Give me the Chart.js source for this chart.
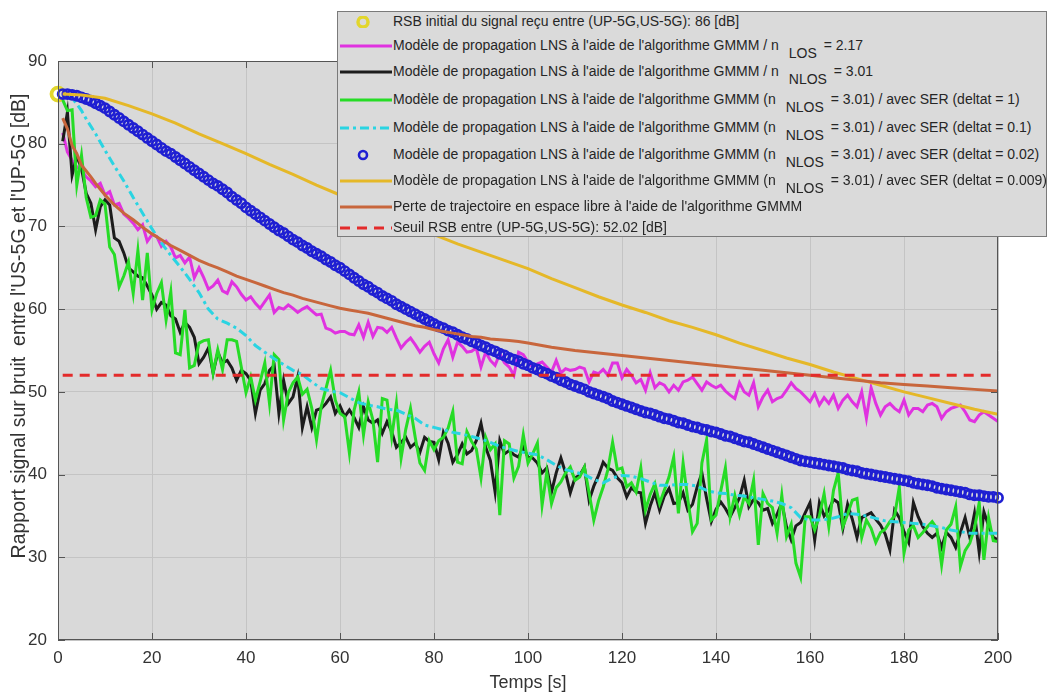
<!DOCTYPE html>
<html>
<head>
<meta charset="utf-8">
<script src="https://cdn.jsdelivr.net/npm/chart.js@4.4.1/dist/chart.umd.min.js"></script>
<style>
  html, body { margin: 0; padding: 0; background: #ffffff; }
  #wrap { position: relative; width: 1048px; height: 693px; }
  #legend {
    position: absolute; left: 337px; top: 11px; width: 710px; height: 226px;
    background: #dadada; border: 1px solid #7a7a7a; box-sizing: border-box;
    font-family: "Liberation Sans", Arial, sans-serif; font-size: 14px; color: #262626;
  }
  .row { position: absolute; left: 0; height: 16px; line-height: 16px; white-space: nowrap; }
  .row svg { position: absolute; left: 2px; top: 3px; }
  .row .txt { position: absolute; left: 55px; top: 0; }
  .sub { font-size: 14px; position: relative; top: 8px; margin-left: 6px; margin-right: 3px; }
</style>
</head>
<body>
<div id="wrap">
  <canvas id="chart" width="1048" height="693"></canvas>
  <div id="legend"></div>
</div>
<script>
// ---------------- DATA ----------------
const TIME = Array.from({length: 200}, (_, i) => i + 1);

const X_TICKS = [0, 20, 40, 60, 80, 100, 120, 140, 160, 180, 200];
const Y_TICKS = [20, 30, 40, 50, 60, 70, 80, 90];

const INITIAL_T = [0];
const INITIAL_V = [86];

const THRESHOLD_T = [1, 200];
const THRESHOLD_V = [52.02, 52.02];

const MAGENTA_V = [
81.3,79.0,78.0,77.2,76.8,76.0,75.5,74.8,75.2,73.8,
74.2,72.6,72.8,71.5,71.0,70.4,69.6,70.2,68.2,69.0,
68.8,67.6,68.2,67.5,66.2,66.5,65.6,66.3,63.8,65.0,
63.8,62.4,62.8,63.5,62.2,61.9,63.3,62.7,61.8,61.1,
61.5,60.7,60.1,60.9,61.7,59.6,60.2,60.0,60.5,60.1,
59.6,60.0,60.3,59.8,59.3,59.4,57.7,57.5,57.1,57.3,
57.3,57.0,56.9,58.1,56.6,58.4,56.7,57.8,57.7,57.2,
57.8,56.5,55.3,56.0,56.5,55.7,54.8,55.5,56.0,54.6,
53.5,55.2,56.3,54.2,56.0,55.5,54.8,54.9,55.3,53.0,
54.8,53.8,53.2,54.6,53.5,53.0,52.0,54.8,54.5,53.6,
53.0,53.4,53.6,53.0,52.4,53.8,52.3,52.8,52.6,52.7,
53.0,52.8,51.2,52.4,52.2,52.7,52.0,53.5,53.5,51.7,
52.7,52.0,51.1,51.5,50.2,52.3,50.5,51.1,50.8,50.0,
50.8,50.2,51.2,51.4,51.8,51.0,50.2,51.2,50.8,50.5,
50.8,50.1,49.6,49.2,51.1,50.0,49.6,51.1,48.2,49.4,
50.2,48.8,49.2,49.4,50.2,51.1,50.4,50.0,49.4,48.8,
49.8,48.4,49.3,48.6,49.6,48.0,49.0,49.6,48.8,48.2,
50.0,46.8,50.5,48.6,47.2,48.2,48.6,48.0,47.6,49.0,
47.2,48.0,48.0,47.6,48.4,48.6,48.2,46.8,47.6,48.0,
48.2,48.4,47.6,46.6,46.4,47.2,47.6,47.2,46.8,46.4
];

const BLACK_V = [
80.3,83.8,76.2,78.5,77.0,74.0,72.8,69.6,72.4,73.2,
72.6,68.6,68.2,66.8,65.0,64.5,64.0,63.8,62.8,61.7,
60.0,60.8,60.5,59.2,58.8,57.2,58.4,57.8,56.6,53.4,
54.2,55.3,52.3,54.8,53.5,53.8,52.9,51.4,52.6,52.2,
51.4,47.4,50.2,51.0,52.6,53.2,47.4,51.4,48.6,49.4,
51.8,45.7,48.2,45.7,47.8,48.0,48.6,49.4,47.4,48.3,
47.0,47.8,46.9,45.7,48.2,46.6,46.2,46.6,45.0,46.4,
45.2,43.3,43.9,44.5,43.3,43.8,42.7,44.5,44.0,43.9,
41.8,45.1,43.8,41.5,42.4,43.7,42.5,42.9,44.1,46.2,
43.3,41.7,37.9,44.1,42.5,42.9,42.4,42.1,43.3,42.1,
42.0,41.4,40.2,40.8,37.9,40.2,42.0,40.2,37.8,39.6,
39.9,40.9,36.9,38.6,39.9,41.5,40.8,40.5,39.6,39.0,
37.3,38.4,37.9,37.8,34.1,36.2,37.8,35.7,37.4,38.3,
36.5,36.6,37.8,35.7,36.4,38.5,40.2,37.1,34.3,35.8,
36.7,35.9,34.9,36.0,37.2,39.3,36.1,37.0,36.6,35.7,
35.9,34.1,35.2,36.6,33.7,32.1,33.8,34.2,35.4,36.6,
32.1,36.6,35.0,35.7,37.0,36.6,33.5,36.4,34.6,32.4,
34.8,35.1,35.4,34.6,33.9,32.8,30.9,35.7,34.8,33.1,
31.8,36.6,34.9,33.7,32.9,32.4,32.9,31.2,33.0,32.4,
31.2,33.0,34.8,32.4,35.3,30.6,35.5,33.8,32.4,32.1
];

const GREEN_V = [
85.3,84.0,84.1,75.0,78.6,73.5,71.1,71.3,73.2,72.7,
67.5,66.6,62.7,64.0,65.7,61.9,67.1,61.1,66.8,59.9,
61.9,63.2,58.7,62.1,54.7,54.5,59.9,52.9,53.2,55.9,
56.2,56.3,52.3,55.1,52.7,56.3,56.3,56.1,53.0,49.9,
51.8,49.0,51.2,53.5,48.6,54.5,53.9,46.6,49.9,51.1,
51.8,49.7,50.3,48.0,44.2,48.2,50.4,52.6,49.0,47.4,
47.0,42.6,47.8,50.0,44.8,48.8,46.6,41.5,49.2,49.0,
44.5,48.6,42.0,45.5,48.0,44.5,41.4,40.5,44.1,43.0,
44.1,44.5,45.6,47.6,41.5,41.3,45.2,44.0,43.1,39.6,
44.5,43.0,43.7,35.1,44.1,43.7,39.6,41.0,44.8,41.4,
42.5,43.8,36.3,40.3,36.5,38.4,39.1,40.2,40.9,39.3,
39.7,40.9,37.8,34.5,36.8,38.5,40.6,43.9,40.6,40.8,
38.5,39.0,37.9,40.8,35.7,37.6,38.9,36.5,38.1,39.7,
42.1,35.3,41.4,37.0,33.1,34.1,41.4,44.2,34.5,35.1,
38.0,40.8,34.9,37.5,35.1,37.3,36.5,39.3,31.5,37.7,
36.5,36.0,32.9,37.5,32.5,34.0,29.3,27.6,34.9,34.9,
33.3,35.0,37.7,33.7,38.1,40.2,33.7,35.2,36.9,37.1,
32.4,34.5,33.5,31.8,33.0,33.4,34.3,35.0,38.5,30.5,
33.3,33.8,32.4,33.0,33.7,34.3,33.5,29.1,33.3,34.0,
36.1,28.9,30.8,31.7,33.5,36.6,29.7,34.8,32.0,31.9
];

const BLUE_V = [
86.0,86.0,85.9,85.8,85.6,85.4,85.2,84.9,84.6,84.3,
83.9,83.5,83.1,82.7,82.3,81.9,81.5,81.1,80.7,80.3,
79.9,79.5,79.1,78.8,78.4,78.0,77.6,77.2,76.8,76.4,
76.0,75.6,75.2,74.9,74.5,74.1,73.6,73.2,72.8,72.3,
71.9,71.5,71.1,70.7,70.3,69.9,69.5,69.2,68.8,68.4,
68.1,67.7,67.4,67.0,66.7,66.4,66.0,65.7,65.3,65.0,
64.6,64.2,63.8,63.4,63.0,62.7,62.3,62.0,61.6,61.3,
61.0,60.6,60.3,60.0,59.7,59.4,59.1,58.8,58.5,58.2,
57.9,57.7,57.4,57.2,56.9,56.6,56.4,56.1,55.9,55.6,
55.4,55.1,54.9,54.6,54.4,54.1,53.9,53.7,53.4,53.2,
52.9,52.7,52.4,52.2,51.9,51.7,51.4,51.2,50.9,50.7,
50.5,50.3,50.0,49.8,49.6,49.4,49.2,48.9,48.7,48.5,
48.3,48.1,47.9,47.7,47.5,47.4,47.2,47.0,46.8,46.7,
46.5,46.3,46.2,46.0,45.8,45.7,45.5,45.4,45.2,45.1,
44.9,44.7,44.6,44.4,44.2,44.0,43.9,43.7,43.5,43.3,
43.1,42.9,42.7,42.5,42.3,42.1,41.9,41.7,41.6,41.5,
41.4,41.3,41.2,41.1,41.0,40.9,40.8,40.6,40.5,40.4,
40.2,40.1,40.0,39.9,39.8,39.7,39.6,39.5,39.4,39.3,
39.2,39.0,38.9,38.8,38.7,38.6,38.4,38.3,38.2,38.1,
38.0,37.9,37.8,37.6,37.5,37.5,37.4,37.3,37.3,37.2
];

const YELLOW_T = [1,5,10,15,20,25,30,35,40,45,50,55,60,65,70,75,80,85,90,95,100,105,110,115,120,125,130,135,140,145,150,155,160,165,170,175,180,185,190,195,200];
const YELLOW_V = [86.0,85.9,85.5,84.6,83.6,82.5,81.2,80.0,78.8,77.5,76.3,75.0,73.8,72.5,71.3,70.1,69.0,67.9,66.9,65.9,64.9,63.7,62.6,61.5,60.5,59.6,58.6,57.8,56.9,55.9,55.0,54.1,53.3,52.4,51.6,50.8,50.0,49.3,48.6,47.9,47.3];

const BROWN_T = [1,2,3,4,5,6,7,8,9,10,12,14,16,18,20,22,24,26,28,30,32,34,36,38,40,42,44,46,48,50,52,54,56,58,60,62,64,66,68,70,72,74,76,78,80,82,84,86,88,90,92,94,96,98,100,105,110,115,120,125,130,135,140,145,150,155,160,165,170,175,180,185,190,195,200];
const BROWN_V = [83.1,81.8,79.8,78.8,77.4,76.7,76.0,75.2,74.5,73.8,72.6,71.6,70.8,69.9,69.1,68.4,67.7,67.1,66.5,65.9,65.4,65.0,64.5,64.0,63.6,63.2,62.8,62.4,62.0,61.7,61.3,61.0,60.7,60.4,60.1,59.9,59.7,59.5,59.2,58.9,58.6,58.3,58.0,57.8,57.5,57.3,57.1,56.9,56.7,56.6,56.4,56.3,56.2,56.1,55.9,55.4,55.0,54.7,54.4,54.1,53.8,53.5,53.2,52.9,52.6,52.3,52.0,51.7,51.4,51.1,50.9,50.7,50.5,50.3,50.1];

const CYAN_T = [1,2,3,4,5,6,8,10,12,14,16,18,20,22,24,26,28,30,32,34,36,38,40,42,44,46,48,50,52,54,56,58,60,62,64,66,68,70,72,74,76,78,80,82,84,86,88,90,92,94,96,98,100,102,104,106,108,110,112,114,116,118,120,122,124,126,128,130,132,134,136,138,140,142,144,146,148,150,152,154,156,158,160,162,164,166,168,170,172,174,176,178,180,182,184,186,188,190,192,194,196,198,200];
const CYAN_V = [86.0,85.9,85.5,84.8,84.0,83.0,81.2,79.2,77.3,75.5,73.5,71.6,69.7,68.0,66.5,65.1,63.6,62.0,60.0,58.8,58.3,57.7,56.8,55.6,54.8,54.0,53.3,52.6,52.1,51.2,50.4,50.1,49.9,49.3,48.7,48.4,48.2,47.9,47.8,47.3,46.8,46.0,45.7,45.4,45.1,44.9,44.6,44.3,43.9,43.4,43.1,42.8,42.6,42.4,41.8,41.1,40.6,40.3,40.0,39.4,39.0,39.6,39.9,39.8,39.5,39.1,38.7,38.7,38.8,38.8,38.6,38.1,37.8,37.7,37.5,37.4,37.2,37.0,36.8,36.5,36.0,34.8,34.5,34.5,34.6,34.9,35.3,35.2,35.0,34.7,34.4,34.3,34.2,34.1,34.0,33.8,33.6,33.3,33.1,32.9,32.9,32.9,32.9];

const LABELS = [
  "RSB initial du signal reçu entre (UP-5G,US-5G): 86 [dB]",
  "Modèle de propagation LNS à l'aide de l'algorithme GMMM / n",
  "Modèle de propagation LNS à l'aide de l'algorithme GMMM / n",
  "Modèle de propagation LNS à l'aide de l'algorithme GMMM (n",
  "Modèle de propagation LNS à l'aide de l'algorithme GMMM (n",
  "Modèle de propagation LNS à l'aide de l'algorithme GMMM (n",
  "Modèle de propagation LNS à l'aide de l'algorithme GMMM (n",
  "Perte de trajectoire en espace libre à l'aide de l'algorithme GMMM",
  "Seuil RSB entre (UP-5G,US-5G): 52.02 [dB]"
];
const SUBS = ["", "LOS", "NLOS", "NLOS", "NLOS", "NLOS", "NLOS", "", ""];
const TAILS = ["", " = 2.17", " = 3.01", " = 3.01) / avec SER (deltat = 1)", " = 3.01) / avec SER (deltat = 0.1)", " = 3.01) / avec SER (deltat = 0.02)", " = 3.01) / avec SER (deltat = 0.009)", "", ""];

const X_TITLE = "Temps [s]";
const Y_TITLE = "Rapport signal sur bruit  entre l'US-5G et l'UP-5G [dB]";

// ---------------- STYLE ----------------
const C = {
  init: '#e2d62c', magenta: '#e032e0', black: '#1c1c1c', green: '#26dc26',
  cyan: '#2ad4e2', blue: '#1f1fd2', yellow: '#e5b828', brown: '#c8663c', red: '#e32b2b'
};
const FONT = '"Liberation Sans", Arial, sans-serif';

function pts(t, v) { return t.map((x, i) => ({x: x, y: v[i]})); }

const datasets = [
  {label: LABELS[0], data: pts(INITIAL_T, INITIAL_V), showLine: false, pointRadius: 6.5, pointBorderWidth: 3.8,
   borderColor: C.init, pointBackgroundColor: 'rgba(0,0,0,0)', clip: false},
  {label: LABELS[1], data: pts(TIME, MAGENTA_V), borderColor: C.magenta, borderWidth: 3, pointRadius: 0},
  {label: LABELS[2], data: pts(TIME, BLACK_V), borderColor: C.black, borderWidth: 3, pointRadius: 0},
  {label: LABELS[3], data: pts(TIME, GREEN_V), borderColor: C.green, borderWidth: 3, pointRadius: 0},
  {label: LABELS[4], data: pts(CYAN_T, CYAN_V), borderColor: C.cyan, borderWidth: 3, pointRadius: 0, borderDash: [9, 4, 3, 4]},
  {label: LABELS[5], data: pts(TIME, BLUE_V), showLine: false, pointRadius: 4.6, pointBorderWidth: 2.7,
   borderColor: C.blue, pointBackgroundColor: 'rgba(0,0,0,0)', clip: false},
  {label: LABELS[6], data: pts(YELLOW_T, YELLOW_V), borderColor: C.yellow, borderWidth: 3, pointRadius: 0},
  {label: LABELS[7], data: pts(BROWN_T, BROWN_V), borderColor: C.brown, borderWidth: 3, pointRadius: 0},
  {label: LABELS[8], data: pts(THRESHOLD_T, THRESHOLD_V), borderColor: C.red, borderWidth: 3, pointRadius: 0, borderDash: [10, 7]}
];
datasets.forEach((d, i) => { d.order = datasets.length - i; d.fill = false; d.tension = 0; d.pointHoverRadius = d.pointRadius; });

const frame = {
  id: 'frame',
  beforeDraw(chart) {
    const {ctx, chartArea: a} = chart;
    ctx.save();
    ctx.fillStyle = '#ffffff';
    ctx.fillRect(0, 0, chart.width, chart.height);
    ctx.fillStyle = '#d9d9d9';
    ctx.fillRect(a.left, a.top, a.right - a.left, a.bottom - a.top);
    ctx.restore();
  },
  afterDatasetsDraw(chart) {
    const {ctx, chartArea: a, scales} = chart;
    ctx.save();
    ctx.strokeStyle = '#555555';
    ctx.lineWidth = 1;
    ctx.strokeRect(a.left + 0.5, a.top + 0.5, a.right - a.left - 1, a.bottom - a.top - 1);
    ctx.beginPath();
    const L = 7;
    X_TICKS.forEach(v => {
      const px = Math.round(scales.x.getPixelForValue(v)) + 0.5;
      ctx.moveTo(px, a.bottom); ctx.lineTo(px, a.bottom - L);
      ctx.moveTo(px, a.top); ctx.lineTo(px, a.top + L);
    });
    Y_TICKS.forEach(v => {
      const py = Math.round(scales.y.getPixelForValue(v)) + 0.5;
      ctx.moveTo(a.left, py); ctx.lineTo(a.left + L, py);
      ctx.moveTo(a.right, py); ctx.lineTo(a.right - L, py);
    });
    ctx.stroke();
    // y-axis title (placed like the reference, slightly above the axis centre)
    ctx.translate(20, 326);
    ctx.rotate(-Math.PI / 2);
    ctx.font = '19.5px ' + FONT;
    ctx.fillStyle = '#333333';
    ctx.textAlign = 'center';
    ctx.textBaseline = 'middle';
    ctx.fillText(Y_TITLE, 0, 0);
    ctx.restore();
  }
};

new Chart(document.getElementById('chart'), {
  type: 'line',
  data: {datasets: datasets},
  plugins: [frame],
  options: {
    responsive: false,
    animation: false,
    events: [],
    layout: {padding: {top: 61, right: 50, left: 0, bottom: 0}},
    plugins: {legend: {display: false}, tooltip: {enabled: false}},
    scales: {
      x: {
        type: 'linear', min: 0, max: 200,
        afterBuildTicks: s => { s.ticks = X_TICKS.map(v => ({value: v})); },
        afterFit: s => { s.height = 53; },
        grid: {color: '#c4c4c4', lineWidth: 1, drawTicks: false},
        border: {display: false},
        ticks: {font: {family: FONT, size: 17}, color: '#333333', padding: 8, maxRotation: 0},
        title: {display: true, text: X_TITLE, font: {family: FONT, size: 18, lineHeight: 1.1}, color: '#333333', padding: {top: 0, bottom: 0}}
      },
      y: {
        type: 'linear', min: 20, max: 90,
        afterBuildTicks: s => { s.ticks = Y_TICKS.map(v => ({value: v})); },
        afterFit: s => { s.width = 58; },
        grid: {color: '#c4c4c4', lineWidth: 1, drawTicks: false},
        border: {display: false},
        ticks: {font: {family: FONT, size: 17}, color: '#333333', padding: 11},
        title: {display: false, text: Y_TITLE}
      }
    }
  }
});

// ---------------- LEGEND (HTML) ----------------
const ROW_TOPS = [1, 25, 51, 79, 107, 134, 160, 186, 207];
const SW = [
  {type: 'circle', color: C.init, r: 5, w: 3.5},
  {type: 'line', color: C.magenta},
  {type: 'line', color: C.black},
  {type: 'line', color: C.green},
  {type: 'line', color: C.cyan, dash: '9 4 3 4'},
  {type: 'circle', color: C.blue, r: 4, w: 2.6},
  {type: 'line', color: C.yellow},
  {type: 'line', color: C.brown},
  {type: 'line', color: C.red, dash: '10 7'}
];
const lg = document.getElementById('legend');
LABELS.forEach((lab, i) => {
  const row = document.createElement('div');
  row.className = 'row';
  row.style.top = ROW_TOPS[i] + 'px';
  const s = SW[i];
  let svg = '<svg width="52" height="12" viewBox="0 0 52 12">';
  if (s.type === 'line') {
    svg += '<line x1="0" y1="6" x2="52" y2="6" stroke="' + s.color + '" stroke-width="3"' + (s.dash ? ' stroke-dasharray="' + s.dash + '"' : '') + '/>';
  } else {
    svg += '<circle cx="23" cy="6" r="' + s.r + '" fill="none" stroke="' + s.color + '" stroke-width="' + s.w + '"/>';
  }
  svg += '</svg>';
  const txt = document.createElement('span');
  txt.className = 'txt';
  txt.textContent = lab;
  if (SUBS[i]) {
    txt.appendChild(document.createTextNode(' '));
    const sub = document.createElement('span');
    sub.className = 'sub';
    sub.textContent = SUBS[i];
    txt.appendChild(sub);
    txt.appendChild(document.createTextNode(TAILS[i]));
  }
  row.innerHTML = svg;
  row.appendChild(txt);
  lg.appendChild(row);
});
</script>
</body>
</html>
